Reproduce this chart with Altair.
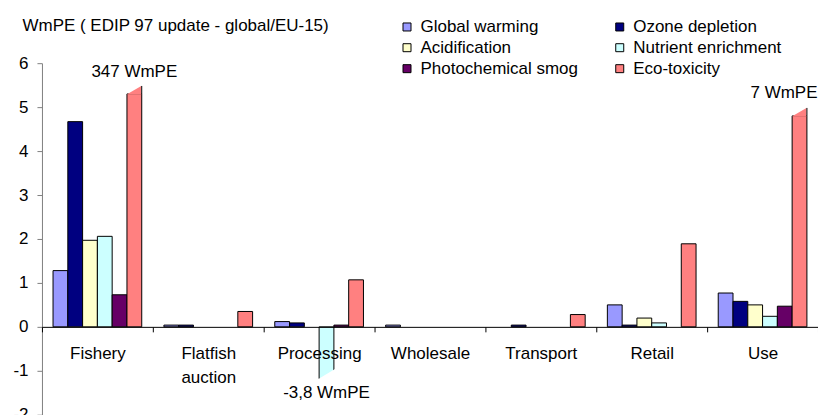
import altair as alt
import pandas as pd

# ---------------- data ----------------
stages = ["Fishery", "Flatfish auction", "Processing", "Wholesale", "Transport", "Retail", "Use"]
impacts = ["Global warming", "Ozone depletion", "Acidification",
           "Nutrient enrichment", "Photochemical smog", "Eco-toxicity"]
colors = ["#9999FF", "#000080", "#FFFFCC", "#CCFFFF", "#660066", "#FF8080"]

# legend reading order (two columns, filled top to bottom)
legend_order = ["Global warming", "Acidification", "Photochemical smog",
                "Ozone depletion", "Nutrient enrichment", "Eco-toxicity"]

# values shown on the axis (WmPE); broken bars are shown cut at the axis limit
global_warming = [1.28, 0.04, 0.12, 0.04, 0.0, 0.50, 0.77]
ozone_depletion = [4.67, 0.04, 0.09, 0.0, 0.04, 0.04, 0.58]
acidification = [1.97, 0.0, 0.0, 0.0, 0.0, 0.20, 0.50]
nutrient_enrichment = [2.06, 0.0, -1.18, 0.0, 0.0, 0.09, 0.24]
photochemical_smog = [0.73, 0.0, 0.04, 0.0, 0.0, 0.0, 0.47]
eco_toxicity = [5.30, 0.35, 1.07, 0.0, 0.28, 1.89, 4.80]

# broken bars: true values and their labels
break_stage = ["Fishery", "Processing", "Use"]
break_impact = ["Eco-toxicity", "Nutrient enrichment", "Eco-toxicity"]
break_true = [347, -3.8, 7]
break_text = ["347 WmPE", "-3,8 WmPE", "7 WmPE"]
break_shown = [eco_toxicity[0], nutrient_enrichment[2], eco_toxicity[6]]
break_label_y = [5.8, -1.5, 5.32]

y_ticks = [-2, -1, 0, 1, 2, 3, 4, 5, 6]
title_text = "WmPE ( EDIP 97 update - global/EU-15)"

series_values = [global_warming, ozone_depletion, acidification,
                 nutrient_enrichment, photochemical_smog, eco_toxicity]
rows = []
for imp, vals in zip(impacts, series_values):
    for st, v in zip(stages, vals):
        rows.append({"stage": st, "impact": imp, "value": v})
df = pd.DataFrame(rows)
df = df[df["value"] != 0]

bdf = pd.DataFrame({"stage": break_stage, "impact": break_impact, "true": break_true,
                    "label": break_text, "value": break_shown, "label_y": break_label_y})

color_of = dict(zip(impacts, colors))
legend_colors = [color_of[k] for k in legend_order]

FONT = "Liberation Sans"
FS = 17

x_enc = alt.X("stage:N", sort=stages,
              scale=alt.Scale(domain=stages, paddingInner=0, paddingOuter=0),
              axis=alt.Axis(title=None, labelAngle=0, tickBand="extent", tickSize=5,
                            tickColor="black", domainColor="black", offset=-88,
                            labelPadding=14, labelFontSize=FS, labelLineHeight=24,
                            labelExpr="split(datum.label, ' ')", zindex=1))
xo_enc = alt.XOffset("impact:N", sort=impacts,
                     scale=alt.Scale(domain=impacts, paddingInner=0, paddingOuter=0.75))
y_scale = alt.Scale(domain=[-2, 6], nice=False, zero=False)

bars = alt.Chart(df).mark_bar(stroke="black", strokeWidth=1).encode(
    x=x_enc,
    xOffset=xo_enc,
    y=alt.Y("value:Q", scale=y_scale,
            axis=alt.Axis(values=y_ticks, grid=False, tickSize=5, labelPadding=9,
                          domainColor="#808080", tickColor="#808080",
                          labelFontSize=FS, labelExpr="'' + datum.value",
                          title=title_text, titleAngle=0, titleAlign="left",
                          titleBaseline="alphabetic", titleX=-20, titleY=-33,
                          titleFontSize=FS, titleFontWeight="normal")),
    color=alt.Color("impact:N", sort=legend_order,
                    scale=alt.Scale(domain=legend_order, range=legend_colors),
                    legend=alt.Legend(title=None, orient="none", legendX=357, legendY=-45,
                                      columns=2, symbolType="square", symbolSize=64,
                                      symbolStrokeColor="black", symbolStrokeWidth=1,
                                      labelFontSize=FS, labelOffset=5, rowPadding=3,
                                      columnPadding=33, padding=0)),
)

SIZE = 219
top_breaks = bdf[bdf["true"] > 0]
bottom_breaks = bdf[bdf["true"] < 0]

cap_fill = alt.Chart(top_breaks).mark_point(
    shape="M -0.93 0.1 L 0.93 0.1 L 0.93 -1.08 L -0.93 0 Z",
    size=SIZE, filled=True, fill="#FF8080", strokeWidth=0, opacity=1,
).encode(x=x_enc, xOffset=xo_enc, y=alt.Y("value:Q", scale=y_scale))

cap_edge = alt.Chart(top_breaks).mark_point(
    shape="M 1 0 L 1 -1.08", size=SIZE, filled=False, stroke="black",
    strokeWidth=1, opacity=1,
).encode(x=x_enc, xOffset=xo_enc, y=alt.Y("value:Q", scale=y_scale))

cut = alt.Chart(bottom_breaks).mark_point(
    shape="M -1.1 0.2 L 1.15 0.2 L 1.15 -1.3 L -1.1 0.05 Z",
    size=SIZE, filled=True, fill="white", strokeWidth=0, opacity=1,
).encode(x=x_enc, xOffset=xo_enc, y=alt.Y("value:Q", scale=y_scale))

labels_main = alt.Chart(bdf).transform_filter(alt.datum.stage != "Use").mark_text(
    font=FONT, fontSize=FS, color="black", baseline="middle", align="center",
).encode(x=x_enc, xOffset=xo_enc, y=alt.Y("label_y:Q", scale=y_scale), text="label:N")

labels_use = alt.Chart(bdf).transform_filter(alt.datum.stage == "Use").mark_text(
    font=FONT, fontSize=FS, color="black", baseline="middle", align="right", dx=18,
).encode(x=x_enc, xOffset=xo_enc, y=alt.Y("label_y:Q", scale=y_scale), text="label:N")

chart = alt.layer(bars, cap_fill, cap_edge, cut, labels_main, labels_use).properties(
    width=777, height=352,
    autosize=alt.AutoSizeParams(type="none"),
    padding={"left": 34, "top": 55, "right": 0, "bottom": 0},
).configure_view(stroke=None).configure_axis(
    labelFont=FONT, titleFont=FONT, labelColor="black", titleColor="black",
).configure_legend(labelFont=FONT, labelColor="black")

chart.save("out.html", embed_options={"renderer": "svg", "actions": False})
